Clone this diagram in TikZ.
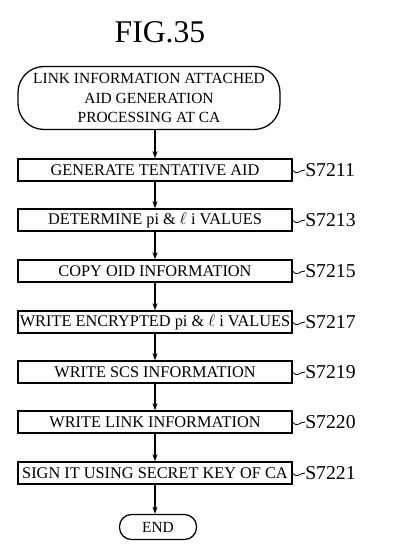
\documentclass[tikz,border=0pt]{standalone}
\usepackage{fontspec}
\setmainfont{Liberation Serif}
\usetikzlibrary{arrows.meta}
\begin{document}
\begin{tikzpicture}[x=0.025cm,y=-0.025cm,
  stepbox/.style={draw, rectangle, line width=0.9pt, minimum width=274*0.025cm, minimum height=22*0.025cm, inner sep=1pt, font=\fontsize{11.6}{13}\selectfont},
  termbox/.style={draw, rectangle, line width=0.9pt, align=center, inner sep=0pt, font=\fontsize{11}{14}\selectfont},
  steplabel/.style={anchor=west, inner sep=0pt, font=\fontsize{14}{16}\selectfont},
  flow/.style={-{Stealth[length=5pt,width=3.5pt]}, line width=0.8pt},
  leader/.style={line width=0.6pt}]
\useasboundingbox (0,0) rectangle (400,560);
\node[font=\fontsize{22.5}{26}\selectfont] (title) at (160,32) {FIG.35};
\node[termbox, rounded corners=0.65cm, minimum width=262*0.025cm, minimum height=63*0.025cm] (start) at (149,98) {LINK INFORMATION ATTACHED\\AID GENERATION\\PROCESSING AT CA};
\node[stepbox] (s1) at (155,170) {GENERATE TENTATIVE AID};
\node[stepbox] (s2) at (155,220) {DETERMINE pi \& $\ell$ i VALUES};
\node[stepbox] (s3) at (155,271) {COPY OID INFORMATION};
\node[stepbox] (s4) at (155,322) {WRITE ENCRYPTED pi \& $\ell$ i VALUES};
\node[stepbox] (s5) at (155,372) {WRITE SCS INFORMATION};
\node[stepbox] (s6) at (155,422) {WRITE LINK INFORMATION};
\node[stepbox] (s7) at (155,473) {SIGN IT USING SECRET KEY OF CA};
\node[termbox, rounded corners=0.3cm, minimum width=77*0.025cm, minimum height=25*0.025cm] (end) at (158,527) {END};
% step numbers
\node[steplabel] (l1) at (305,170) {S7211};
\node[steplabel] (l2) at (305,220) {S7213};
\node[steplabel] (l3) at (305,271) {S7215};
\node[steplabel] (l4) at (305,322) {S7217};
\node[steplabel] (l5) at (305,372) {S7219};
\node[steplabel] (l6) at (305,422) {S7220};
\node[steplabel] (l7) at (305,473) {S7221};
\foreach \i in {1,...,7}
  \draw[leader] (s\i.east) .. controls +(5,6) and +(-6,0) .. (l\i.west);
% flow
\draw[flow] (s1.north |- start.south) -- (s1.north);
\draw[flow] (s1) -- (s2);
\draw[flow] (s2) -- (s3);
\draw[flow] (s3) -- (s4);
\draw[flow] (s4) -- (s5);
\draw[flow] (s5) -- (s6);
\draw[flow] (s6) -- (s7);
\draw[flow] (s7.south) -- (s7.south |- end.north);
\end{tikzpicture}
\end{document}
